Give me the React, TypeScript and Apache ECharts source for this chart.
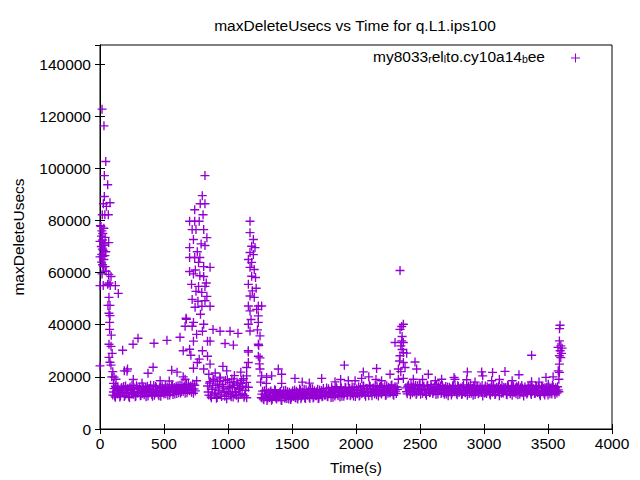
import React, { useEffect, useRef } from "react";
import * as echarts from "echarts";

// regular samples (every 10 s, two interleaved rows offset by 5 s) in the flat stretches
const sampleStep = 10;

const band1Start = 100;
const band1Values = [
  13000, 15500, 12200, 14800, 16200, 13500, 12800, 15900, 14100, 12500,
  16500, 13800, 14900, 12100, 15200, 16800, 13300, 14400, 12700, 15700,
  14000, 16100, 12900, 13600, 15400, 14700, 12400, 16400, 13900, 15100,
  14300, 12600, 16700, 13700, 15800, 14500, 12800, 16000, 14200, 15300,
  13400, 16900, 14600, 12900, 15600, 14100, 16300, 13200, 15900, 14800,
  13600, 16600, 15000, 13800, 17000, 14400, 16200, 15300, 13900, 17200,
  14700, 16500, 15200, 13700, 16800,
];
const band1bStart = 105;
const band1bValues = [
  14200, 12700, 16000, 13400, 15100, 12300, 15600, 13900, 16300, 12900,
  14700, 15400, 12600, 16100, 13500, 14000, 15800, 12400, 16600, 13800,
  15300, 12800, 14500, 16200, 13100, 15900, 14300, 12700, 15500, 16800,
  13200, 14900, 12900, 16300, 14100, 13300, 15700, 12600, 16500, 14000,
  15200, 13500, 16100, 14800, 13000, 15400, 16900, 14200, 13400, 16400,
  15600, 13900, 16800, 14400, 15200, 16100, 13700, 17100, 14900, 15600,
  16300, 14100, 17300, 15400, 14600,
];

const band2Start = 840;
const band2Values = [
  16500, 13000, 18200, 12000, 15800, 19000, 13800, 11800, 17200, 14600,
  19500, 12500, 16300, 14000, 18600, 11600, 15400, 17800, 13200, 19200,
  12300, 16800, 14400, 18000, 11900, 15600, 17500, 13500, 19300, 12800, 16000,
];
const band2bStart = 845;
const band2bValues = [
  14200, 17600, 12700, 15200, 18800, 13400, 16700, 12100, 14900, 18300,
  13100, 17000, 15700, 12600, 14300, 18900, 13700, 16200, 12400, 15900,
  18100, 14100, 12900, 17300, 15100, 13300, 18700, 16400, 12200, 14800, 17900,
];

const band3Start = 1260;
const band3Values = [
  12000, 14500, 11200, 13300, 15000, 11800, 12900, 14200, 11000, 13700,
  12400, 14800, 11500, 13100, 12600, 14400, 10900, 13500, 12200, 14900,
  11700, 13000, 14100, 11300, 13800,
  12500, 15000, 11900, 13900, 12700, 15300, 11600, 14300, 13100, 12000,
  15100, 12900, 14600, 11800, 13600, 15400, 12300, 14000, 12800, 15200,
  11900, 13400, 14800, 12600, 14100,
  13000, 15700, 12400, 14500, 13600, 15900, 12200, 14900, 13300, 15500,
  12800, 14200, 16000, 12600, 14700, 13500, 15800, 12900, 14300, 15600,
  13100, 16100, 12700, 14800, 13800,
  13500, 16200, 12900, 15100, 14000, 16500, 13200, 15600, 14400, 12800,
  16300, 13900, 15300, 14600, 16700, 13100, 15000, 14200, 16400, 13400,
  15800, 14700, 12900, 16600, 13700, 15400, 14100, 16900, 13300, 15700,
  14500, 16100,
];
const band3bStart = 1265;
const band3bValues = [
  13400, 11600, 14700, 12500, 10900, 13900, 12100, 14600, 11400, 12800,
  15100, 11900, 13600, 12300, 14000, 11100, 13200, 14700, 11800, 12700,
  14300, 11500, 13400, 12000, 14600,
  13700, 12100, 14500, 11500, 13300, 14900, 12400, 13800, 15200, 11700,
  13500, 14200, 12200, 15500, 13000, 11900, 14700, 12900, 14400, 11700,
  15000, 13200, 12400, 15500, 13000,
  14300, 12600, 15400, 13700, 12100, 15000, 14100, 12700, 16200, 13400,
  14800, 12300, 15600, 13900, 12600, 16000, 14400, 13000, 15200, 12800,
  14900, 13600, 15900, 12500, 15300,
  14800, 12700, 15900, 13600, 16400, 14300, 12600, 15500, 13900, 16800,
  14100, 12800, 15700, 13500, 14900, 16200, 12700, 15900, 13800, 15200,
  14300, 16500, 13000, 15100, 16000, 13800, 16700, 14600, 12900, 16200,
  13600, 15200,
];

const band4Start = 2390;
const band4Values = [
  15800, 13500, 16900, 14600, 17200, 13900, 16200, 15100, 13200, 16600,
  14400, 17000, 15300, 13700, 16400, 14900, 12900, 16800, 15500, 14100,
  16100, 13600, 15900, 14700, 17100, 13400, 15200, 16500, 14000, 15700,
  13300, 16300, 14800, 12800, 16000, 15400, 13800, 16700, 14300, 15100,
  13100, 16200, 14600, 15800, 13500, 16900, 14200, 15000, 12900, 16400,
  14900, 13700, 15600, 16600, 13200, 14500, 15900, 13900, 16100, 14100,
  12700, 15300, 16500, 13600, 14800, 15700, 13000, 16300, 14400, 15200,
  13400, 16000, 14700, 12800, 15500, 16700, 13800, 14900, 15900, 13100,
  16200, 14300, 15000, 12900, 16400, 14600, 13500, 15800, 16600, 13300,
  14200, 15600, 12700, 16100, 14800, 13900, 15400, 16800, 13200, 14500,
  15100, 13700, 16300, 14000, 15700, 12800, 16500, 14400, 13600, 15300,
  16000, 13000, 14900, 15500, 13400, 16200, 14100, 15800, 13800, 15000,
];
const band4bStart = 2395;
const band4bValues = [
  14300, 16400, 15000, 13100, 16100, 15600, 14200, 16800, 13800, 15400,
  16900, 13300, 14700, 16300, 15200, 13600, 16600, 14500, 13900, 17000,
  15100, 14300, 16400, 13200, 15600, 16200, 14800, 13600, 16700, 14100,
  15500, 13400, 16100, 15000, 14400, 13000, 16500, 14900, 15700, 13700,
  16600, 14000, 15300, 13200, 16300, 14700, 13900, 16000, 15400, 13600,
  16900, 14300, 12900, 15800, 14100, 16400, 13500, 15200, 14700, 16700,
  15000, 13800, 14200, 16200, 15500, 13400, 15900, 14100, 16800, 13200,
  15700, 14500, 16400, 15100, 13700, 14200, 16000, 15600, 13300, 16700,
  14700, 13500, 16500, 15300, 14000, 15700, 16200, 13100, 14900, 15800,
  16700, 13900, 15000, 14300, 13400, 16400, 15200, 13800, 16100, 15400,
  13600, 16500, 14600, 15900, 13300, 14800, 16000, 15600, 13000, 14200,
  14900, 16300, 13500, 14400, 16700, 15100, 13200, 14600, 16200, 14300,
];

// [time (s), maxDeleteUsecs]
const startupSpike = [
  [0, 24200], [0, 55000], [0, 66000], [0, 72000], [3, 78000],
  [16, 122700], [31, 116300], [45, 102600], [34, 97200], [60, 93700],
  [34, 89200], [26, 86400], [50, 85400], [78, 86800], [18, 82200],
  [38, 82200], [65, 82200], [8, 77700], [15, 76000], [22, 75000],
  [30, 77000], [12, 74000], [20, 72500], [28, 71000], [40, 73500],
  [10, 70000], [18, 69000], [25, 68500], [35, 70500], [45, 68000],
  [14, 67000], [22, 66200], [30, 65000], [38, 66500], [12, 64000],
  [20, 63000], [28, 62300], [40, 62300], [48, 60500], [16, 59500],
  [68, 71500], [25, 55000], [68, 59300], [86, 58500], [60, 55500],
  [70, 56000], [80, 55000], [120, 55000], [143, 52000], [70, 50500],
  [62, 47400], [78, 47400], [70, 44400], [78, 43500], [75, 40900],
  [75, 38200], [70, 32500], [86, 31700], [70, 27500], [78, 25600],
  [86, 24500], [110, 19900], [125, 19100], [120, 16400], [135, 15300],
  [88, 36000], [95, 29000], [100, 22000], [92, 20000], [105, 17500],
];

const earlyOutliers = [
  [177, 30200], [258, 32500], [190, 22300], [215, 23000], [297, 34800],
  [422, 32900], [523, 34000], [625, 35200], [211, 22200], [415, 23700],
  [375, 21400], [602, 21800], [541, 18400], [328, 17600], [260, 19000],
  [470, 18500], [650, 20000], [560, 22500],
];

const secondSpike = [
  [820, 97200], [799, 89500], [783, 86400], [820, 86400], [740, 84100],
  [805, 82200], [700, 79700], [740, 79700], [775, 79700], [720, 76500],
  [750, 76500], [810, 76500], [730, 72700], [835, 73400], [700, 69600],
  [820, 70400], [700, 65800], [740, 65800], [780, 65800], [770, 63900],
  [810, 62300], [860, 62000], [700, 60400], [730, 59500], [780, 58800],
  [810, 58500], [770, 54700], [820, 54700], [750, 52800], [795, 52400],
  [835, 50900], [720, 49700], [765, 49000], [820, 49200], [743, 46700],
  [796, 47100], [860, 47100], [675, 42100], [730, 40900], [810, 40200],
  [665, 39400], [720, 39400], [883, 38200], [938, 37500], [1016, 37500],
  [1078, 36700], [755, 36300], [800, 37500], [730, 33700], [840, 33700],
  [860, 33700], [977, 32800], [1042, 32200], [650, 30000], [700, 30600],
  [710, 28300], [840, 27900], [775, 26800], [860, 24900], [730, 23300],
  [810, 23000], [990, 22300], [665, 19100], [755, 18500], [885, 19100],
  [937, 19900], [672, 42500], [760, 68000], [790, 71000], [745, 61000],
  [785, 44000], [830, 56000], [715, 55500], [800, 30000], [760, 25500],
  [850, 21000], [900, 21500], [1050, 20500], [1100, 21800], [960, 24000],
];

const thirdSpike = [
  [1172, 79700], [1172, 75300], [1198, 72700], [1185, 70100], [1211, 69600],
  [1172, 67700], [1198, 66900], [1159, 65000], [1185, 63900], [1172, 62000],
  [1205, 61200], [1185, 58600], [1215, 58100], [1159, 55500], [1172, 51000],
  [1205, 50500], [1159, 47200], [1237, 47200], [1263, 47200], [1172, 45300],
  [1224, 45900], [1237, 43400], [1237, 40900], [1159, 40200], [1172, 37600],
  [1250, 35700], [1237, 32500], [1240, 32000], [1159, 30000], [1159, 29500],
  [1237, 27900], [1250, 27300], [1159, 25500], [1146, 23600], [1250, 23000],
  [1263, 20400], [1302, 19800], [1341, 20400], [1393, 23000], [1146, 20400],
  [1159, 16000], [1146, 12000], [1190, 53000], [1220, 54000], [1180, 42000],
  [1230, 38000], [1245, 25000], [1255, 18000],
];

const middleOutliers = [
  [1419, 21000], [1419, 17500], [1909, 24500], [2057, 21900], [2161, 23200],
  [2266, 21000], [1523, 19400], [1732, 19400], [1836, 18100], [1993, 18500],
  [1940, 18500], [2044, 19400], [2156, 19000], [1635, 17600], [1300, 17500],
  [1580, 18000], [1880, 19000], [2100, 20000], [2200, 18500],
];

const fourthSpike = [
  [2344, 60800], [2370, 40200], [2357, 39300], [2344, 38200], [2357, 33800],
  [2370, 33200], [2305, 33200], [2350, 31900], [2360, 30500], [2370, 29300],
  [2344, 28100], [2396, 29100], [2340, 26100], [2370, 25500], [2461, 25700],
  [2331, 23000], [2383, 23600], [2474, 23000], [2565, 21000], [2331, 19100],
  [2370, 19400], [2448, 19100], [2669, 19100], [2773, 19100], [2360, 35500],
  [2350, 22000],
];

const lateOutliers = [
  [2766, 19800], [2870, 21900], [2865, 18900], [2982, 21900], [2990, 20400],
  [3067, 21700], [3060, 18500], [3164, 22100], [3273, 20800], [3372, 28300],
  [3372, 18100], [3484, 19800], [3502, 17200], [2520, 19000], [2620, 18500],
  [2930, 18000], [3120, 19000], [3220, 18500], [3430, 18000], [3540, 20000],
];

const endSpike = [
  [3594, 39800], [3589, 33800], [3578, 31300], [3600, 31900], [3610, 31000],
  [3589, 28100], [3600, 27400], [3589, 24900], [3580, 22300], [3589, 21700],
  [3585, 19100], [3595, 30000], [3605, 29000], [3590, 38500],
];

const xMax = 4000;
const xInterval = 500;
const yMax = 147300;
const yInterval = 20000;

const plusSymbol = "path://M4.25,0H5.75V4.25H10V5.75H5.75V10H4.25V5.75H0V4.25H4.25Z";
const pointColor = "#9400d3";
const font = "'Liberation Sans', Arial, sans-serif";

function band(start: number, values: number[]) {
  return values.map((v, i) => [start + i * sampleStep, v]);
}

export default function App() {
  const chartRef = useRef<HTMLDivElement>(null);

  useEffect(() => {
    if (!chartRef.current) return;
    const chart = echarts.init(chartRef.current, undefined, { renderer: "svg" });

    const points = [
      ...band(band1Start, band1Values),
      ...band(band1bStart, band1bValues),
      ...band(band2Start, band2Values),
      ...band(band2bStart, band2bValues),
      ...band(band3Start, band3Values),
      ...band(band3bStart, band3bValues),
      ...band(band4Start, band4Values),
      ...band(band4bStart, band4bValues),
      ...startupSpike,
      ...earlyOutliers,
      ...secondSpike,
      ...thirdSpike,
      ...middleOutliers,
      ...fourthSpike,
      ...lateOutliers,
      ...endSpike,
    ];

    const tickStyle = { inside: true, length: 5, lineStyle: { color: "#000", width: 1 } };
    const lineStyle = { show: true, lineStyle: { color: "#000", width: 1 } };
    const labelStyle = { color: "#000", fontSize: 15.5, fontFamily: font };
    const plain = (v: number) => String(v);

    const option: echarts.EChartsOption = {
      animation: false,
      backgroundColor: "#fff",
      title: {
        text: "maxDeleteUsecs vs Time for q.L1.ips100",
        left: 350,
        top: 12,
        textAlign: "center",
        textStyle: { color: "#000", fontSize: 15.5, fontWeight: "normal", fontFamily: font },
      },
      grid: { left: 100, right: 28, top: 45, bottom: 50, show: true, borderColor: "#000", borderWidth: 1 },
      xAxis: [
        {
          type: "value",
          min: 0,
          max: xMax,
          interval: xInterval,
          name: "Time(s)",
          nameLocation: "middle",
          nameGap: 30,
          nameTextStyle: labelStyle,
          axisLine: lineStyle,
          axisTick: tickStyle,
          axisLabel: { ...labelStyle, margin: 6, formatter: plain },
          splitLine: { show: false },
        },
        {
          type: "value",
          position: "top",
          min: 0,
          max: xMax,
          interval: xInterval,
          axisLine: lineStyle,
          axisTick: tickStyle,
          axisLabel: { show: false },
          splitLine: { show: false },
        },
      ],
      yAxis: [
        {
          type: "value",
          min: 0,
          max: yMax,
          interval: yInterval,
          name: "maxDeleteUsecs",
          nameLocation: "middle",
          nameGap: 74,
          nameTextStyle: labelStyle,
          axisLine: lineStyle,
          axisTick: tickStyle,
          axisLabel: { ...labelStyle, margin: 9, showMaxLabel: false, formatter: plain },
          splitLine: { show: false },
        },
        {
          type: "value",
          position: "right",
          min: 0,
          max: yMax,
          interval: yInterval,
          axisLine: lineStyle,
          axisTick: tickStyle,
          axisLabel: { show: false },
          splitLine: { show: false },
        },
      ],
      graphic: [
        {
          type: "text",
          right: 95,
          top: 48,
          style: {
            text: "{n|my8033}{s|r}{n|el}{s|l}{n|to.cy10a14}{s|b}{n|ee}",
            fill: "#000",
            rich: {
              n: { fontSize: 15.5, fontFamily: font, lineHeight: 16, verticalAlign: "top", padding: [0, 0, 4, 0] },
              s: { fontSize: 10.5, fontFamily: font, lineHeight: 11, verticalAlign: "bottom" },
            },
          } as any,
        },
        {
          type: "line",
          shape: { x1: 571, y1: 58, x2: 580, y2: 58 },
          style: { stroke: pointColor, lineWidth: 1 },
        },
        {
          type: "line",
          shape: { x1: 575.5, y1: 53.5, x2: 575.5, y2: 62.5 },
          style: { stroke: pointColor, lineWidth: 1 },
        },
      ],
      series: [
        {
          name: "my8033_rel_lto.cy10a14_bee",
          type: "scatter",
          xAxisIndex: 0,
          yAxisIndex: 0,
          symbol: plusSymbol,
          symbolSize: 9,
          itemStyle: { color: pointColor, opacity: 1 },
          data: points,
        },
      ],
    };

    chart.setOption(option);
    return () => chart.dispose();
  }, []);

  return (
    <div
      ref={chartRef}
      style={{ position: "fixed", left: 0, top: 0, width: 640, height: 480 }}
    />
  );
}
